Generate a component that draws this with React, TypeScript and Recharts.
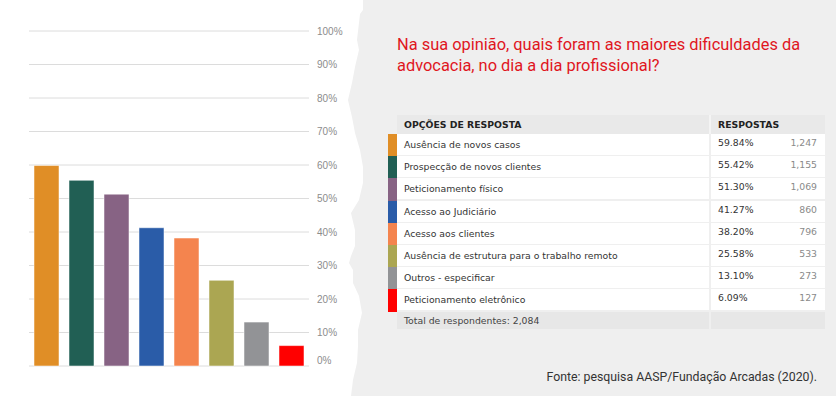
import { BarChart, Bar, XAxis, YAxis, CartesianGrid, Cell } from 'recharts';

const options = [
  'Ausência de novos casos',
  'Prospecção de novos clientes',
  'Peticionamento físico',
  'Acesso ao Judiciário',
  'Acesso aos clientes',
  'Ausência de estrutura para o trabalho remoto',
  'Outros - especificar',
  'Peticionamento eletrônico',
];
const percents = [59.84, 55.42, 51.3, 41.27, 38.2, 25.58, 13.1, 6.09];
const counts = [1247, 1155, 1069, 860, 796, 533, 273, 127];
const colors = ['#e08e26', '#215f54', '#876384', '#2a5ca8', '#f4844e', '#aba652', '#929396', '#ff0000'];
const yTicks = [0, 10, 20, 30, 40, 50, 60, 70, 80, 90, 100];
const totalRespondents = 2084;

const title = 'Na sua opinião, quais foram as maiores dificuldades da advocacia, no dia a dia profissional?';
const source = 'Fonte: pesquisa AASP/Fundação Arcadas (2020).';

// outline of the torn white paper on the left
const tornEdge = [
  [363, 0], [363, 10], [360, 14], [357, 40], [359, 50], [355, 67], [352, 83], [348, 100],
  [352, 117], [355, 133], [360, 150], [363, 167], [363, 183], [359, 200], [351, 213],
  [355, 230], [355, 246], [351, 256], [349, 263], [353, 270], [353, 283], [359, 296],
  [362, 313], [358, 330], [358, 346], [357, 363], [353, 380], [351, 396],
];

const data = options.map((name, i) => ({ name, value: percents[i] }));

const fmtCount = (n: number) => n.toLocaleString('en-US');

const PercentTick = (props: any) => {
  const { x, y, payload } = props;
  return (
    <text
      x={x}
      y={y}
      dy={payload.value === 0 ? '-0.2em' : '0.355em'}
      textAnchor="start"
      fill="#8c8c8c"
      fontSize={10}
      fontFamily="'Liberation Sans', Arial, sans-serif"
    >
      {payload.value}%
    </text>
  );
};

const ROW_TOP = 134;
const ROW_H = 22.2;
const tableFont = "'DejaVu Sans', sans-serif";

const App = () => {
  const edgePoints = [[0, 0], ...tornEdge, [0, 396]].map((p) => p.join(',')).join(' ');
  const totalTop = ROW_TOP + options.length * ROW_H;

  return (
    <div style={{ position: 'absolute', left: 0, top: 0, width: 836, height: 396, background: '#efefef', overflow: 'hidden' }}>
      <svg width={836} height={396} style={{ position: 'absolute', left: 0, top: 0 }}>
        <polygon points={edgePoints} fill="#ffffff" />
      </svg>

      <div style={{ position: 'absolute', left: 0, top: 0 }}>
        <BarChart
          width={360}
          height={396}
          data={data}
          margin={{ top: 31, right: 6, bottom: 30, left: 29 }}
        >
          <CartesianGrid vertical={false} stroke="#dcdcdc" />
          <XAxis dataKey="name" hide />
          <YAxis
            orientation="right"
            domain={[0, 100]}
            ticks={yTicks}
            width={45}
            axisLine={false}
            tickLine={false}
            tick={<PercentTick />}
            interval={0}
          />
          <Bar dataKey="value" barSize={25} isAnimationActive={false} stroke="#ffffff" strokeOpacity={0.5} strokeWidth={1}>
            {data.map((d, i) => (
              <Cell key={d.name} fill={colors[i]} />
            ))}
          </Bar>
        </BarChart>
      </div>

      <div
        style={{
          position: 'absolute',
          left: 397,
          top: 34,
          width: 420,
          fontFamily: 'Roboto, sans-serif',
          fontSize: 16.4,
          lineHeight: '21px',
          color: '#e0161e',
        }}
      >
        {title}
      </div>

      {/* table */}
      <div style={{ position: 'absolute', left: 397, top: 115, width: 428, height: 19, background: '#e9e9e9' }} />
      <div style={{ position: 'absolute', left: 709, top: 115, width: 2, height: 19, background: '#f4f4f4' }} />
      <div style={{ position: 'absolute', left: 404, top: 115, height: 19, lineHeight: '19px', fontFamily: tableFont, fontSize: 9.3, fontWeight: 'bold', color: '#222' }}>
        OPÇÕES DE RESPOSTA
      </div>
      <div style={{ position: 'absolute', left: 718, top: 115, height: 19, lineHeight: '19px', fontFamily: tableFont, fontSize: 9.3, fontWeight: 'bold', color: '#222' }}>
        RESPOSTAS
      </div>

      {options.map((opt, i) => {
        const top = ROW_TOP + i * ROW_H;
        return (
          <div key={opt}>
            <div style={{ position: 'absolute', left: 388, top, width: 9, height: ROW_H, background: colors[i] }} />
            <div style={{ position: 'absolute', left: 397, top, width: 312, height: ROW_H - 1.2, background: '#fff' }} />
            <div style={{ position: 'absolute', left: 711, top, width: 114, height: ROW_H - 1.2, background: '#fff' }} />
            <div style={{ position: 'absolute', left: 404, top, height: ROW_H - 1.2, lineHeight: `${ROW_H}px`, fontFamily: tableFont, fontSize: 9.3, color: '#333', whiteSpace: 'nowrap' }}>
              {opt}
            </div>
            <div style={{ position: 'absolute', left: 718, top: top - 2, height: ROW_H, lineHeight: `${ROW_H}px`, fontFamily: tableFont, fontSize: 9.3, color: '#333' }}>
              {percents[i].toFixed(2)}%
            </div>
            <div style={{ position: 'absolute', left: 711, width: 106, textAlign: 'right', top: top - 2, height: ROW_H, lineHeight: `${ROW_H}px`, fontFamily: tableFont, fontSize: 9.3, color: '#8a8a8a' }}>
              {fmtCount(counts[i])}
            </div>
          </div>
        );
      })}

      <div style={{ position: 'absolute', left: 397, top: totalTop, width: 312, height: 17, background: '#e7e7e7' }} />
      <div style={{ position: 'absolute', left: 711, top: totalTop, width: 114, height: 17, background: '#e7e7e7' }} />
      <div style={{ position: 'absolute', left: 404, top: totalTop, height: 17, lineHeight: '17px', fontFamily: tableFont, fontSize: 9.3, color: '#444' }}>
        Total de respondentes: {fmtCount(totalRespondents)}
      </div>

      <div
        style={{
          position: 'absolute',
          right: 836 - 817,
          top: 370,
          fontFamily: 'Roboto, sans-serif',
          fontSize: 12.3,
          color: '#333',
          whiteSpace: 'nowrap',
        }}
      >
        {source}
      </div>
    </div>
  );
};

export default App;
